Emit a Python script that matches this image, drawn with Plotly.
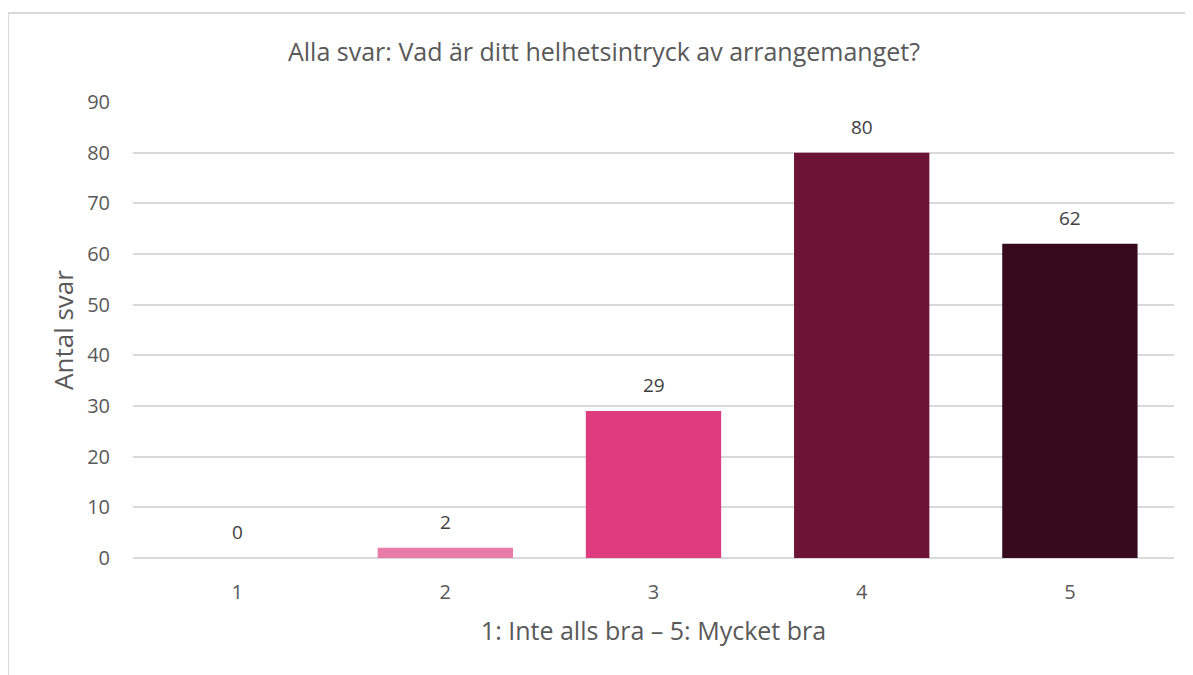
import plotly.graph_objects as go

# data
categories = ["1", "2", "3", "4", "5"]
values = [0, 2, 29, 80, 62]
bar_colors = ["#F2A7C6", "#E87BA8", "#DE3C7E", "#6C1336", "#380A1D"]
y_ticks = [0, 10, 20, 30, 40, 50, 60, 70, 80, 90]

TITLE = "Alla svar: Vad är ditt helhetsintryck av arrangemanget?"
X_TITLE = "1: Inte alls bra – 5: Mycket bra"
Y_TITLE = "Antal svar"

FONT = "Open Sans, Noto Sans, sans-serif"
GRAY = "#595959"

# the page body adds an 8px margin, so the figure is sized / offset for that
W, H = 1185, 667
ML, MR, MT, MB = 125, 19, 94, 117
PW = W - ML - MR

fig = go.Figure()

fig.add_trace(go.Bar(
    x=categories,
    y=values,
    marker=dict(color=bar_colors, line=dict(width=0)),
    hoverinfo="x+y",
))

# value labels above the bars (category axis -> use the category index)
for i, val in enumerate(values):
    fig.add_annotation(
        x=i, y=val, text=str(val),
        showarrow=False, yanchor="bottom", yshift=11,
        font=dict(family=FONT, size=19, color="#404040"),
    )

# outer frame (only top and left edge visible in the reference)
fig.add_shape(
    type="rect", xref="paper", yref="paper",
    x0=-(ML) / PW, x1=1.05, y0=-0.30, y1=1 + (MT - 5) / (H - MT - MB),
    line=dict(color="#D9D9D9", width=2),
    fillcolor="rgba(0,0,0,0)", layer="below",
)

fig.update_layout(
    width=W,
    height=H,
    margin=dict(l=ML, r=MR, t=MT, b=MB),
    paper_bgcolor="white",
    plot_bgcolor="white",
    showlegend=False,
    bargap=0.35,
    font=dict(family=FONT, color=GRAY),
    title=dict(
        text=TITLE,
        x=596 / W, xanchor="center",
        y=1 - 44 / H, yanchor="middle",
        font=dict(family=FONT, size=25, color=GRAY),
    ),
    xaxis=dict(
        type="category",
        title=dict(text=X_TITLE, font=dict(family=FONT, size=25, color=GRAY), standoff=18),
        tickfont=dict(family=FONT, size=20, color=GRAY),
        showgrid=False,
        showline=False,
        zeroline=False,
        ticks="",
        ticklabelstandoff=20,
    ),
    yaxis=dict(
        title=dict(text=Y_TITLE, font=dict(family=FONT, size=26, color=GRAY), standoff=6),
        range=[0, 90],
        tickvals=y_ticks,
        tickfont=dict(family=FONT, size=20, color=GRAY),
        showgrid=True,
        gridcolor="#D9D9D9",
        gridwidth=2,
        zeroline=True,
        zerolinecolor="#D9D9D9",
        zerolinewidth=2,
        showline=False,
        ticks="",
        ticklabelstandoff=22,
    ),
)

fig.write_html("out.html")
